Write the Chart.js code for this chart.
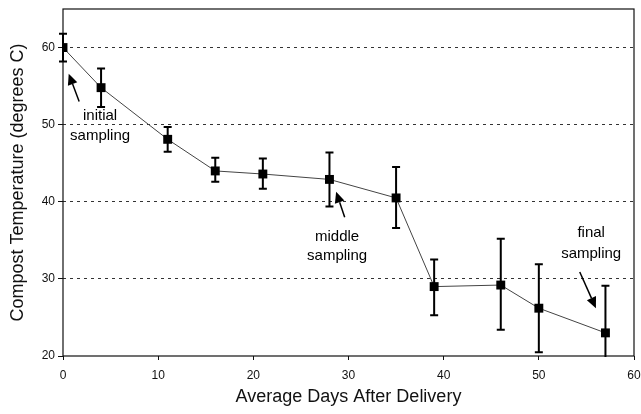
<!DOCTYPE html>
<html>
<head>
<meta charset="utf-8">
<script src="https://cdn.jsdelivr.net/npm/chart.js@4"></script>
<style>
  html, body { margin: 0; padding: 0; background: #fff; }
  #wrap { width: 641px; height: 414px; }
</style>
</head>
<body>
<div id="wrap"><canvas id="myChart" width="641" height="414"></canvas></div>
<script>
// values
var days = [0, 4, 11, 16, 21, 28, 35, 39, 46, 50, 57]
var temps = [60, 54.8, 48.1, 44, 43.6, 42.9, 40.5, 29, 29.2, 26.2, 23]
var errHigh = [61.8, 57.3, 49.7, 45.7, 45.6, 46.4, 44.5, 32.5, 35.2, 31.9, 29.1]
var errLow = [58.2, 52.3, 46.5, 42.6, 41.7, 39.4, 36.6, 25.3, 23.4, 20.5, 19]
var xTicks = [0, 10, 20, 30, 40, 50, 60]
var yTicks = [20, 30, 40, 50, 60]

// callouts: text lines and arrow (tail -> tip), in data units
var notes = [
  { lines: ['initial', 'sampling'], x: 3.9, y: [51.2, 48.5], tail: [1.7, 53.0], tip: [0.6, 56.6] },
  { lines: ['middle', 'sampling'], x: 28.8, y: [35.4, 33.0], tail: [29.6, 38.0], tip: [28.7, 41.3] },
  { lines: ['final', 'sampling'], x: 55.5, y: [36.0, 33.3], tail: [54.3, 30.9], tip: [56.0, 26.2] }
]

var points = days.map(function(d, i) { return { x: d, y: temps[i] } })
var fam = '"Liberation Sans", Arial, sans-serif'

var frame = {
  id: 'frame',
  beforeDatasetsDraw: function(chart) {
    var a = chart.chartArea, ctx = chart.ctx
    ctx.save()
    ctx.strokeStyle = '#111'
    ctx.lineWidth = 1.2
    ctx.strokeRect(a.left, a.top, a.right - a.left, a.bottom - a.top)
    ctx.restore()
  }
}

var errorBars = {
  id: 'errorBars',
  afterDatasetsDraw: function(chart) {
    var ctx = chart.ctx, xs = chart.scales.x, ys = chart.scales.y, a = chart.chartArea
    ctx.save()
    ctx.beginPath()
    ctx.rect(a.left - 10, a.top, a.right - a.left + 20, a.bottom - a.top + 1)
    ctx.clip()
    ctx.strokeStyle = '#000'
    ctx.lineWidth = 2
    days.forEach(function(d, i) {
      var px = xs.getPixelForValue(d)
      var hi = ys.getPixelForValue(errHigh[i])
      var lo = ys.getPixelForValue(errLow[i])
      ctx.beginPath()
      ctx.moveTo(px, hi); ctx.lineTo(px, lo)
      ctx.moveTo(px - 4, hi); ctx.lineTo(px + 4, hi)
      ctx.moveTo(px - 4, lo); ctx.lineTo(px + 4, lo)
      ctx.stroke()
    })
    ctx.restore()

    // callouts
    ctx.save()
    ctx.fillStyle = '#000'
    ctx.strokeStyle = '#000'
    ctx.font = '15px ' + fam
    ctx.textAlign = 'center'
    ctx.textBaseline = 'middle'
    notes.forEach(function(n) {
      n.lines.forEach(function(t, k) {
        ctx.fillText(t, xs.getPixelForValue(n.x), ys.getPixelForValue(n.y[k]))
      })
      var x1 = xs.getPixelForValue(n.tail[0]), y1 = ys.getPixelForValue(n.tail[1])
      var x2 = xs.getPixelForValue(n.tip[0]), y2 = ys.getPixelForValue(n.tip[1])
      var ang = Math.atan2(y2 - y1, x2 - x1)
      var hl = 11, hw = 5
      var bx = x2 - hl * Math.cos(ang), by = y2 - hl * Math.sin(ang)
      ctx.lineWidth = 1.5
      ctx.beginPath()
      ctx.moveTo(x1, y1); ctx.lineTo(bx, by)
      ctx.stroke()
      ctx.beginPath()
      ctx.moveTo(x2, y2)
      ctx.lineTo(bx + hw * Math.sin(ang), by - hw * Math.cos(ang))
      ctx.lineTo(bx - hw * Math.sin(ang), by + hw * Math.cos(ang))
      ctx.closePath()
      ctx.fill()
    })
    ctx.restore()
  }
}

var ctx = document.getElementById('myChart').getContext('2d')
var chart = new Chart(ctx, {
  type: 'line',
  data: {
    datasets: [
      {
        label: 'Compost Temperature',
        data: points,
        borderColor: '#444',
        borderWidth: 1,
        backgroundColor: '#000',
        pointStyle: 'rect',
        pointRadius: 6.3,
        pointBorderWidth: 0,
        pointBackgroundColor: '#000',
        tension: 0
      }
    ]
  },
  options: {
    responsive: false,
    animation: false,
    layout: { padding: { left: 0, right: 7, top: 9, bottom: 0 } },
    plugins: { legend: { display: false }, tooltip: { enabled: false } },
    scales: {
      x: {
        type: 'linear',
        min: 0,
        max: 60,
        afterBuildTicks: function(s) { s.ticks = xTicks.map(function(v) { return { value: v } }) },
        afterFit: function(s) { s.height = 58; s.paddingLeft = 0; s.paddingRight = 0 },
        grid: { drawOnChartArea: false, drawTicks: true, tickLength: 4, tickColor: '#111' },
        border: { display: false },
        ticks: {
          color: '#111',
          padding: 8,
          maxRotation: 0,
          font: { family: fam, size: 12 }
        },
        title: {
          display: true,
          text: 'Average Days After Delivery',
          color: '#111',
          padding: { top: 0, bottom: 6 },
          font: { family: fam, size: 18 }
        }
      },
      y: {
        type: 'linear',
        min: 20,
        max: 65,
        afterBuildTicks: function(s) { s.ticks = yTicks.map(function(v) { return { value: v } }) },
        afterFit: function(s) { s.width = 63; s.paddingTop = 0; s.paddingBottom = 0 },
        grid: {
          color: function(c) { return c.tick && c.tick.value === 20 ? 'rgba(0,0,0,0)' : '#333' },
          lineWidth: 1,
          tickColor: '#111',
          tickLength: 5
        },
        border: { display: false, dash: [3, 4] },
        ticks: {
          color: '#111',
          padding: 3,
          font: { family: fam, size: 12 }
        },
        title: {
          display: true,
          text: 'Compost Temperature (degrees C)',
          color: '#111',
          padding: { top: 7, bottom: 0 },
          font: { family: fam, size: 18 }
        }
      }
    }
  },
  plugins: [frame, errorBars]
})
</script>
</body>
</html>
